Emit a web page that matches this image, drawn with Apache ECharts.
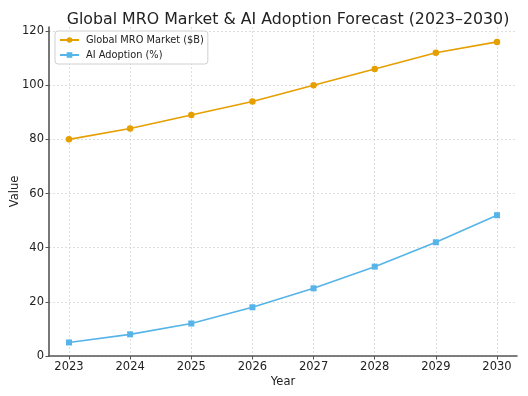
<!DOCTYPE html>
<html><head><meta charset="utf-8">
<script src="https://cdn.jsdelivr.net/npm/echarts@6/dist/echarts.min.js"></script>
<style>html,body{margin:0;padding:0;background:#fff}#c{width:528px;height:396px}</style>
</head><body><div id="c"></div>
<script>
const years = [2023, 2024, 2025, 2026, 2027, 2028, 2029, 2030];
const mroMarket = [80, 84, 89, 94, 100, 106, 112, 116];
const aiAdoption = [5, 8, 12, 18, 25, 33, 42, 52];
const yTicks = [0, 20, 40, 60, 80, 100, 120];
const seriesNames = ['Global MRO Market ($B)', 'AI Adoption (%)'];

const font = 'DejaVu Sans';
const chart = echarts.init(document.getElementById('c'), null, {renderer: 'canvas'});
const grid = {left: 49, right: 11, top: 27, bottom: 40, containLabel: false, outerBoundsMode: 'none'};
chart.setOption({
  animation: false,
  backgroundColor: '#fff',
  title: {text: 'Global MRO Market & AI Adoption Forecast (2023\u20132030)', left: 283, textAlign: 'center', top: 7,
    textStyle: {fontFamily: font, fontSize: 15.8, fontWeight: 'normal', color: '#222'}},
  legend: {left: 55, top: 31, orient: 'vertical', itemGap: 5, itemWidth: 19, itemHeight: 7,
    padding: [4, 4, 4, 4], borderColor: '#d0d0d0', borderWidth: 1, borderRadius: 3, backgroundColor: 'rgba(255,255,255,0.85)',
    textStyle: {fontFamily: font, fontSize: 9.8, color: '#222', padding: [0, 0, 0, 2]}, data: seriesNames},
  grid: grid,
  xAxis: {type: 'value', min: years[0] - 0.327, max: years[years.length - 1] + 0.327,
    name: 'Year', nameLocation: 'middle', nameGap: 20, nameMoveOverlap: false,
    nameTextStyle: {fontFamily: font, fontSize: 11.5, color: '#222', verticalAlign: 'top'},
    axisLine: {show: true, lineStyle: {color: '#555', width: 1.6}},
    axisTick: {show: true, customValues: years, length: 3.5, lineStyle: {color: '#555'}},
    axisLabel: {customValues: years, formatter: v => String(v), fontFamily: font, fontSize: 11.5, color: '#222', margin: 5},
    splitLine: {show: true, customValues: years, lineStyle: {color: '#d6d6d6', type: [2, 2], width: 0.8}}},
  yAxis: {type: 'value', min: 0, max: 121.5,
    name: 'Value', nameLocation: 'middle', nameGap: 28, nameMoveOverlap: false,
    nameTextStyle: {fontFamily: font, fontSize: 11.5, color: '#222'},
    axisLine: {show: true, lineStyle: {color: '#555', width: 1.6}},
    axisTick: {show: true, customValues: yTicks, length: 3.5, lineStyle: {color: '#555'}},
    axisLabel: {customValues: yTicks, fontFamily: font, fontSize: 11.5, color: '#222', margin: 5},
    splitLine: {show: true, customValues: yTicks, lineStyle: {color: '#d6d6d6', type: [2, 2], width: 0.8}}},
  series: [
    {name: seriesNames[0], type: 'line', data: years.map((y, i) => [y, mroMarket[i]]), color: '#E69F00',
      symbol: 'circle', symbolSize: 6.5, lineStyle: {width: 1.6}},
    {name: seriesNames[1], type: 'line', data: years.map((y, i) => [y, aiAdoption[i]]), color: '#56B4E9',
      symbol: 'rect', symbolSize: 6, lineStyle: {width: 1.6}}
  ]
});
</script></body></html>
